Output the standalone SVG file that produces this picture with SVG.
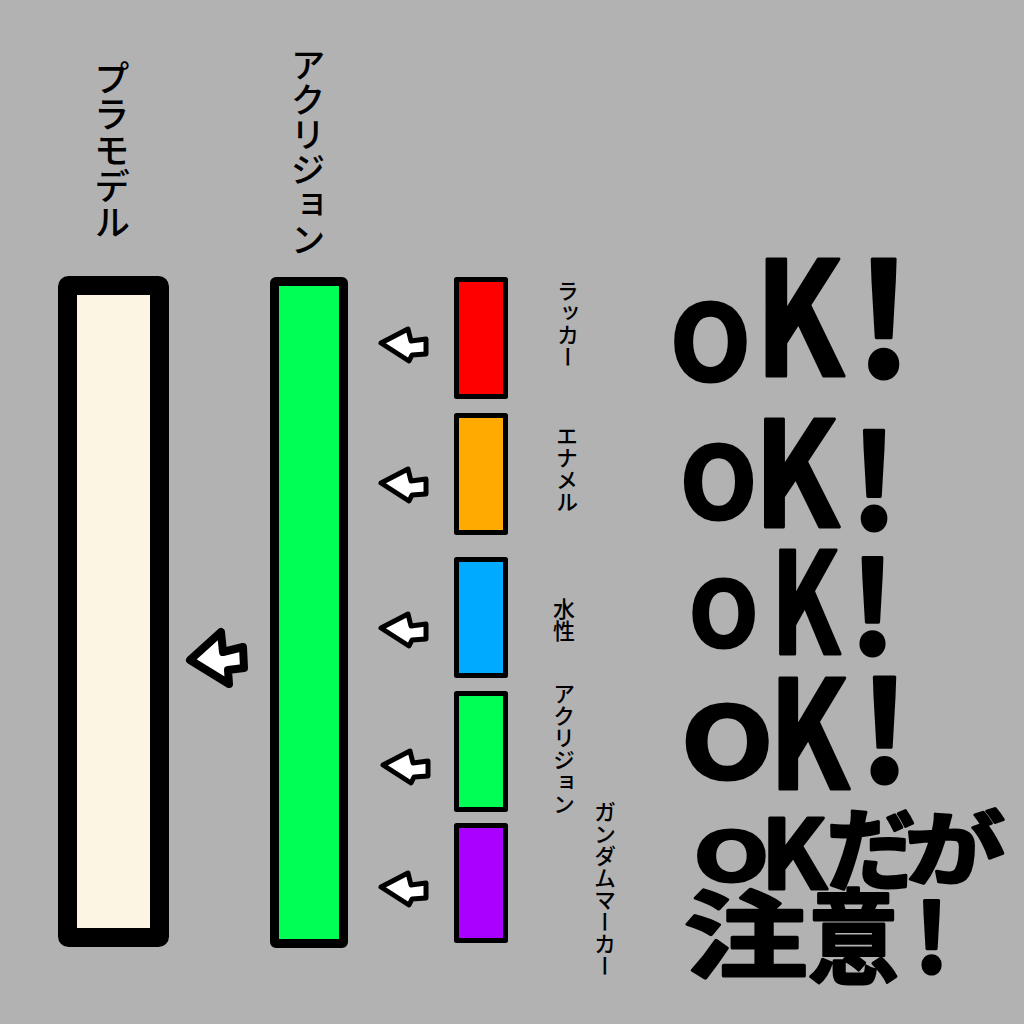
<svg xmlns="http://www.w3.org/2000/svg" width="1024" height="1024" viewBox="0 0 1024 1024">
<style>
.vt{font-family:"Noto Sans CJK JP","Noto Sans",sans-serif;font-weight:500;writing-mode:vertical-rl;fill:#000;}
.big{font-size:35px;}
.sm{font-size:22px;}
.bar{stroke:#000;stroke-linejoin:round;}
.arr{fill:#fff;stroke:#000;stroke-linejoin:round;stroke-linecap:round;}
.hw{font-family:"Noto Sans CJK JP","Noto Sans",sans-serif;font-weight:700;fill:#000;stroke:#000;stroke-width:3;stroke-linejoin:round;}
</style>
<defs>
<path id="sarrow" d="M3,0 L30,-14 L33,-2 L48,-4 L48,11 L34,12 L31,18 Z"/>
</defs>
<rect width="1024" height="1024" fill="#b2b2b2"/>

<g id="plamodel">
<rect class="bar" x="67.5" y="285.5" width="92" height="652" rx="1" fill="#fdf5e4" stroke-width="19"/>
<text class="vt big" x="112" y="60" style="font-size:36px">プラモデル</text>
</g>

<g id="acrylic">
<rect class="bar" x="274.5" y="281.5" width="69" height="662" rx="1.5" fill="#00ff55" stroke-width="9"/>
<text class="vt big" x="308" y="47">アクリジョン</text>
</g>

<g id="lacquer">
<rect class="bar" x="456.5" y="279.5" width="49" height="117" fill="#ff0000" stroke-width="5"/>
<text class="vt sm" x="568" y="280">ラッカー</text>
</g>
<g id="enamel">
<rect class="bar" x="456.5" y="415.5" width="49" height="117" fill="#ffaa00" stroke-width="5"/>
<text class="vt sm" x="567" y="425">エナメル</text>
</g>
<g id="water">
<rect class="bar" x="456.5" y="559.5" width="49" height="116" fill="#00aaff" stroke-width="5"/>
<text class="vt sm" x="564" y="598">水性</text>
</g>
<g id="acrysion-small">
<rect class="bar" x="456.5" y="693.5" width="49" height="116" fill="#00ff55" stroke-width="5"/>
<text class="vt sm" x="564" y="683">アクリジョン</text>
</g>
<g id="gundam-marker">
<rect class="bar" x="456.5" y="825.5" width="49" height="115" fill="#aa00ff" stroke-width="5"/>
<text class="vt sm" x="605" y="801">ガンダムマーカー</text>
</g>

<g id="connectors">
<use href="#sarrow" class="arr" stroke-width="5" transform="translate(378,343)"/>
<use href="#sarrow" class="arr" stroke-width="5" transform="translate(378,483)"/>
<use href="#sarrow" class="arr" stroke-width="5" transform="translate(378,628)"/>
<use href="#sarrow" class="arr" stroke-width="5" transform="translate(380,765)"/>
<use href="#sarrow" class="arr" stroke-width="5" transform="translate(378,887)"/>
<path class="arr" stroke-width="8" d="M190,660 L221,632 L223,652 L243,647 L244,668 L228,670 L229,684 Z"/>
</g>

<g id="ok-1">
<text class="hw" font-size="105" transform="translate(670,381)">O</text>
<text class="hw" font-size="158" transform="translate(755,376) scale(0.82,1)">K</text>
<text class="hw" font-size="155" transform="translate(855,377)">!</text>
</g>
<g id="ok-2">
<text class="hw" font-size="100" transform="translate(680,519)">O</text>
<text class="hw" font-size="146" transform="translate(754,527) scale(0.85,1)">K</text>
<text class="hw" font-size="130" transform="translate(850,529)">!</text>
</g>
<g id="ok-3">
<text class="hw" font-size="90" transform="translate(689,647)">O</text>
<text class="hw" font-size="140" transform="translate(771,654) scale(0.72,1)">K</text>
<text class="hw" font-size="127" transform="translate(849,654)">!</text>
</g>
<g id="ok-4">
<text class="hw" font-size="100" transform="translate(681,779) scale(1.2,1)">O</text>
<text class="hw" font-size="150" transform="translate(769,789) scale(0.78,1)">K</text>
<text class="hw" font-size="138" transform="translate(859,782)">!</text>
</g>
<g id="ok-caution">
<text class="hw" font-size="67" transform="translate(694,881) scale(1.45,1)">O</text>
<text class="hw" font-size="96" transform="translate(761,889)">K</text>
<text class="hw" font-size="90" transform="translate(826,883)">だ</text>
<text class="hw" font-size="80" transform="translate(905,878) scale(1.25,1)">が</text>
<text class="hw" font-size="95" transform="translate(684,971) scale(1.3,1)">注</text>
<text class="hw" font-size="103" transform="translate(808,976) scale(0.88,1)">意</text>
<text class="hw" font-size="95" transform="translate(914,973)">!</text>
</g>
</svg>
